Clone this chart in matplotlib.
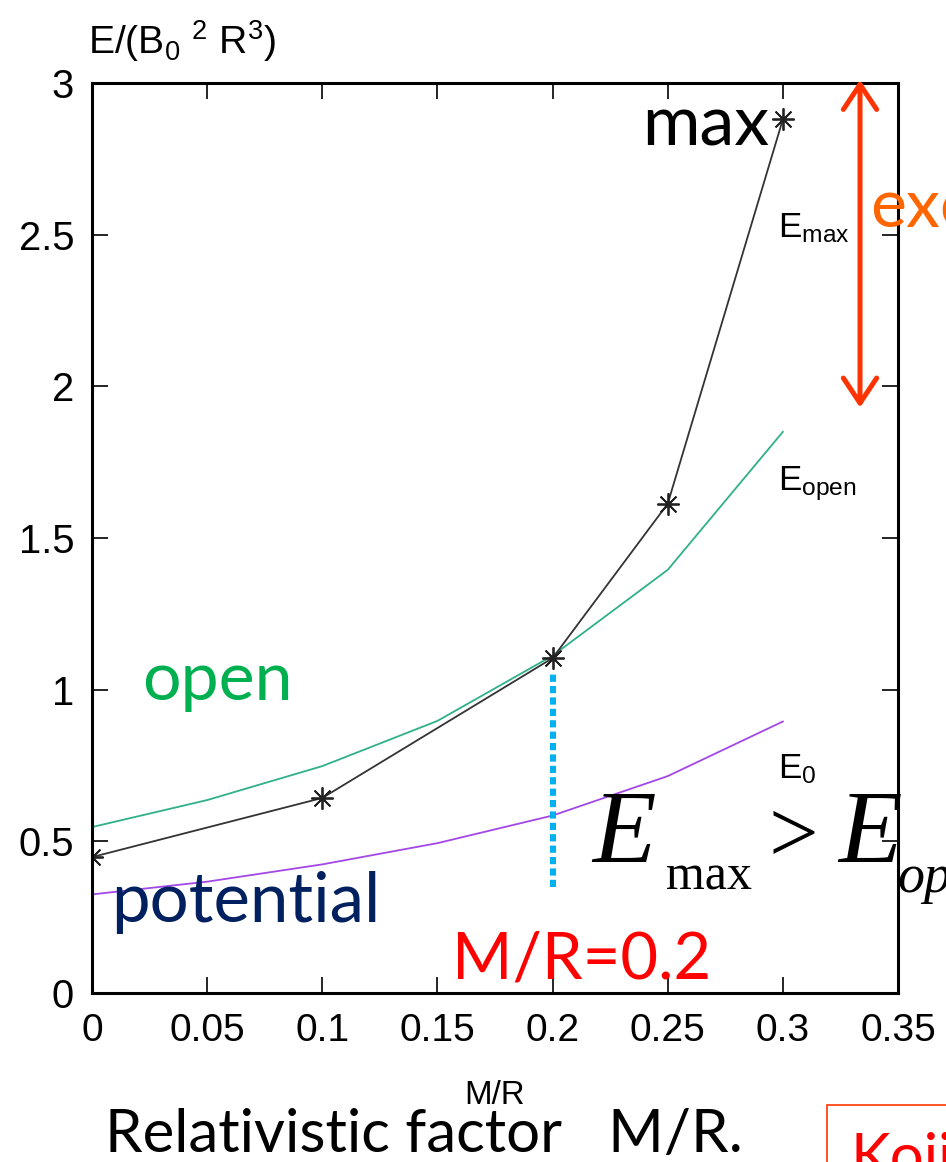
import matplotlib
matplotlib.use("Agg")
import matplotlib.pyplot as plt
from matplotlib.patches import Rectangle

W, H, DPI = 946, 1162, 100

# energies vs compactness M/R
mr = [0.0, 0.05, 0.1, 0.15, 0.2, 0.25, 0.3]
e_open = [0.547, 0.636, 0.748, 0.897, 1.112, 1.395, 1.85]
e_zero = [0.325, 0.367, 0.424, 0.494, 0.585, 0.715, 0.895]
mr_max = [0.0, 0.1, 0.2, 0.25, 0.3]
e_max = [0.448, 0.643, 1.104, 1.613, 2.88]

x_ticks = [0, 0.05, 0.1, 0.15, 0.2, 0.25, 0.3, 0.35]
x_ticklabels = ["0", "0.05", "0.1", "0.15", "0.2", "0.25", "0.3", "0.35"]
y_ticks = [0, 0.5, 1, 1.5, 2, 2.5, 3]
y_ticklabels = ["0", "0.5", "1", "1.5", "2", "2.5", "3"]

mr_crit = 0.2
crit_span = [0.35, 1.06]
excess_x = 0.3335
excess_span = [1.93, 3.01]

plt.rcParams["mathtext.fontset"] = "custom"
plt.rcParams["mathtext.rm"] = "Liberation Sans"
plt.rcParams["mathtext.it"] = "Liberation Sans:italic"
plt.rcParams["font.family"] = ["Liberation Sans", "DejaVu Sans"]

SANS = ["Liberation Sans", "DejaVu Sans"]
SERIF = ["Liberation Serif", "DejaVu Serif"]
SLIDE = ["Lato", "DejaVu Sans"]


def pt(px_size):
    return px_size * 72 / DPI


def fxy(x, y):
    return x / W, 1 - y / H


fig = plt.figure(figsize=(W / DPI, H / DPI), dpi=DPI)
ax = fig.add_axes([92 / W, 1 - 993 / H, (898 - 92) / W, (993 - 83) / H])

ax.plot(mr, e_open, color="#2fb08a", lw=1.3)
ax.plot(mr, e_zero, color="#a347e6", lw=1.3)
ax.plot(mr_max, e_max, color="#333333", lw=1.3, marker=(8, 2, 0),
        markersize=16, markeredgewidth=1.3, markeredgecolor="#222222")

ax.set_xlim(0, 0.35)
ax.set_ylim(0, 3)
ax.set_xticks(x_ticks)
ax.set_xticklabels(x_ticklabels, family=SANS, fontsize=pt(39))
ax.set_yticks(y_ticks)
ax.set_yticklabels(y_ticklabels, family=SANS, fontsize=pt(40))
ax.tick_params(direction="in", length=pt(16), width=1.2, top=True, right=True)
ax.tick_params(axis="x", pad=pt(20))
ax.tick_params(axis="y", pad=pt(18))
for s in ax.spines.values():
    s.set_linewidth(2.2)

# critical compactness marker
ax.plot([mr_crit, mr_crit], crit_span, color="#00b0f0", lw=pt(6),
        linestyle=(0, (1.2, 0.7)), dash_capstyle="butt")

# excess energy arrow
ax.annotate("", xy=(excess_x, excess_span[0]), xytext=(excess_x, excess_span[1]),
            arrowprops=dict(arrowstyle="<->,head_length=0.9,head_width=0.6",
                            color="#ff3300", lw=pt(5), mutation_scale=20,
                            shrinkA=0, shrinkB=0),
            annotation_clip=False)

# curve labels
fig.text(*fxy(778, 237), r"E$_{\mathrm{max}}$", fontsize=pt(35), family=SANS)
fig.text(*fxy(778, 490), r"E$_{\mathrm{open}}$", fontsize=pt(35), family=SANS)
fig.text(*fxy(778, 778), r"E$_{0}$", fontsize=pt(35), family=SANS)

# axis titles
fig.text(*fxy(88, 54), r"E/(B$_0$ $^2$ R$^3$)", fontsize=pt(39), family=SANS)
fig.text(*fxy(495, 1104), "M/R", fontsize=pt(33), family=SANS, ha="center")

# slide annotations
fig.text(*fxy(642, 145), "max", fontsize=pt(70), family=SLIDE, color="black")
fig.text(*fxy(870, 227), "exc", fontsize=pt(68), family=SLIDE, color="#ff6600")
fig.text(*fxy(142, 700), "open", fontsize=pt(68), family=SLIDE, color="#00b050")
fig.text(*fxy(111, 922), "potential", fontsize=pt(69), family=SLIDE, color="#002060")
fig.text(*fxy(452, 978), "M/R=0.2", fontsize=pt(65), family=SLIDE, color="#ff0000")
fig.text(*fxy(105, 1152), "Relativistic factor   M/R.", fontsize=pt(60),
         family=SLIDE, color="black")

# E_max > E_open, set piece by piece
fig.text(*fxy(592, 862), "E", fontsize=pt(104), family=SERIF, style="italic")
fig.text(*fxy(666, 890), "max", fontsize=pt(50), family=SERIF)
fig.text(*fxy(768, 862), ">", fontsize=pt(88), family=SERIF)
fig.text(*fxy(838, 862), "E", fontsize=pt(104), family=SERIF, style="italic")
fig.text(*fxy(897, 892), "op", fontsize=pt(54), family=SERIF, style="italic")

# author box
fig.add_artist(Rectangle(fxy(827, 1200), 200 / W, 95 / H, transform=fig.transFigure,
                         fill=False, edgecolor="#ff3300", lw=1.2))
fig.text(*fxy(850, 1175), "Koji", fontsize=pt(60), family=SLIDE, color="#ff0000")

fig.savefig("out.png", dpi=DPI)
